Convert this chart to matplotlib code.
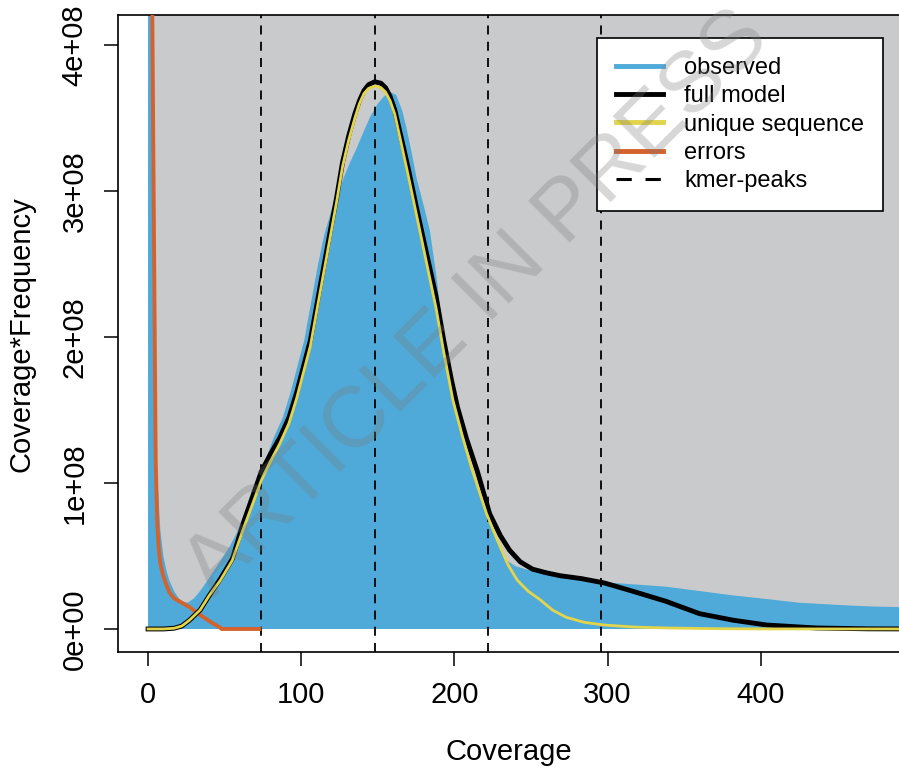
import numpy as np
import matplotlib
matplotlib.use('Agg')
import matplotlib.pyplot as plt

# values, frequencies in units of 1e8
obs_cov = [0, 1, 2, 3, 4, 5, 6, 8, 10, 12, 14, 17, 20, 23, 26, 30, 34, 38, 45, 53,
           58, 63, 68, 74, 82, 88, 93, 98, 102, 107, 111, 115, 120, 124, 128, 132,
           136, 140, 145, 150, 154, 158, 162, 166, 169, 172, 175.5, 180, 184, 188.5,
           193, 199, 205, 211, 216, 221, 226, 230, 234, 240, 248, 256, 270, 284,
           298, 318, 338, 360, 382, 404, 425, 450, 470, 490, 510]
obs_freq = [12, 12, 9, 4.6, 2.3, 1.45, 1.05, 0.68, 0.5, 0.4, 0.33, 0.26, 0.21, 0.185,
            0.18, 0.21, 0.26, 0.32, 0.43, 0.56, 0.66, 0.8, 0.95, 1.08, 1.31, 1.45,
            1.62, 1.82, 1.98, 2.27, 2.5, 2.7, 2.88, 2.98, 3.1, 3.2, 3.29, 3.39,
            3.51, 3.6, 3.65, 3.68, 3.66, 3.55, 3.42, 3.27, 3.08, 2.9, 2.73, 2.4,
            2.0, 1.6, 1.35, 1.12, 0.96, 0.8, 0.66, 0.56, 0.47, 0.43, 0.405, 0.39,
            0.365, 0.34, 0.32, 0.305, 0.29, 0.26, 0.23, 0.205, 0.18, 0.165, 0.155,
            0.15, 0.145]

model_cov = [0, 10, 17, 22, 27, 34, 40, 47, 55, 62, 68, 74, 80, 86, 92, 97, 102,
             106, 111, 115, 119, 123, 127, 131, 135, 138, 141, 144, 148, 152, 155,
             158, 161, 165, 170, 175, 180, 184, 188, 193, 198, 202, 208, 215, 223,
             230, 236, 243, 251, 260, 269, 283, 298, 316, 338, 360, 382, 404, 436,
             470, 510]
model_freq = [0, 0, 0.005, 0.02, 0.06, 0.13, 0.23, 0.34, 0.48, 0.72, 0.9, 1.08,
              1.2, 1.31, 1.45, 1.62, 1.82, 1.98, 2.27, 2.5, 2.73, 2.95, 3.2, 3.38,
              3.53, 3.62, 3.69, 3.73, 3.75, 3.74, 3.71, 3.65, 3.56, 3.38, 3.15, 2.9,
              2.66, 2.47, 2.28, 1.98, 1.71, 1.52, 1.3, 1.08, 0.79, 0.64, 0.54, 0.46,
              0.41, 0.385, 0.365, 0.345, 0.315, 0.26, 0.19, 0.105, 0.06, 0.027,
              0.007, 0.001, 0]

uniq_cov = [0, 10, 17, 22, 27, 34, 40, 47, 55, 62, 68, 74, 80, 86, 92, 97, 102,
            106, 111, 115, 119, 123, 127, 131, 135, 138, 141, 144, 148, 152, 155,
            158, 161, 165, 170, 175, 180, 184, 188, 193, 199, 205, 211, 216, 221,
            226, 230, 235, 241, 248, 256, 264, 273, 285, 298, 318, 338, 370, 400,
            510]
uniq_freq = [0, 0, 0.005, 0.02, 0.06, 0.13, 0.23, 0.33, 0.47, 0.68, 0.85, 1.02,
             1.15, 1.27, 1.41, 1.58, 1.78, 1.94, 2.23, 2.46, 2.69, 2.92, 3.17, 3.35,
             3.5, 3.6, 3.67, 3.705, 3.72, 3.71, 3.68, 3.62, 3.53, 3.34, 3.1, 2.85,
             2.6, 2.4, 2.2, 1.9, 1.57, 1.33, 1.11, 0.95, 0.79, 0.66, 0.56, 0.44,
             0.335, 0.26, 0.2, 0.13, 0.08, 0.045, 0.027, 0.013, 0.007, 0.002,
             0.0005, 0]

err_cov = [2, 2.5, 3, 3.5, 4, 4.5, 5, 6, 7, 8, 10, 12, 14, 17, 22, 27, 32, 37, 42,
           47, 48, 74]
err_freq = [6.0, 4.6, 3.9, 3.2, 2.5, 1.8, 1.15, 0.72, 0.55, 0.45, 0.36, 0.3, 0.25,
            0.21, 0.18, 0.15, 0.11, 0.075, 0.04, 0.01, 0, 0]

kmer_peaks = [74, 148, 222, 296]

xticks = [0, 100, 200, 300, 400]
yticks = [0, 1, 2, 3, 4]
ytick_labels = ['0e+00', '1e+08', '2e+08', '3e+08', '4e+08']

legend_labels = ['observed', 'full model', 'unique sequence', 'errors', 'kmer-peaks']

C_BLUE = '#4faad9'
C_GREY = '#c9cacc'
C_YELLOW = '#e3d54b'
C_ORANGE = '#d4622c'

plt.rcParams['font.family'] = ['Liberation Sans', 'DejaVu Sans']

s = 1e8
fig = plt.figure(figsize=(8.99, 7.68), dpi=100)
ax = fig.add_axes([0.1313, 0.151, 0.902, 0.829])

ymin, ymax = -0.158 * s, 4.205 * s
xmin, xmax = -19.6, 509.8

# grey background behind the observed histogram
ax.fill_between([obs_cov[0], obs_cov[-1]], 0, ymax * 2, color=C_GREY, lw=0, zorder=1)
ax.fill_between(obs_cov, 0, np.array(obs_freq) * s, color=C_BLUE, lw=0, zorder=2)

for p in kmer_peaks:
    ax.axvline(p, color='black', lw=1.3, ls=(0, (5, 4)), zorder=3)

ax.plot(err_cov, np.array(err_freq) * s, color=C_ORANGE, lw=2.8, zorder=4,
        solid_capstyle='butt')
ax.plot(model_cov, np.array(model_freq) * s, color='black', lw=3.5, zorder=5)
ax.plot(uniq_cov, np.array(uniq_freq) * s, color=C_YELLOW, lw=2.0, zorder=6)

ax.set_xlim(xmin, xmax)
ax.set_ylim(ymin, ymax)
ax.set_xticks(xticks)
ax.set_yticks(np.array(yticks) * s)
ax.set_yticklabels(ytick_labels, rotation=90, va='center')
ax.tick_params(axis='both', direction='out', length=10, width=1.1, labelsize=21)
ax.tick_params(axis='x', pad=11)
ax.tick_params(axis='y', pad=11)
for sp in ax.spines.values():
    sp.set_linewidth(1.2)

ax.set_xlabel('Coverage', fontsize=21)
ax.set_ylabel('Coverage*Frequency', fontsize=21)
ax.xaxis.set_label_coords((509 - 118) / (929 - 118), -(738 - 652) / (652 - 15))
ax.yaxis.set_label_coords(-(118 - 35) / (929 - 118), 0.5)

handles = [
    plt.Line2D([], [], color=C_BLUE, lw=3.5),
    plt.Line2D([], [], color='black', lw=3.5),
    plt.Line2D([], [], color=C_YELLOW, lw=3.5),
    plt.Line2D([], [], color=C_ORANGE, lw=3.5),
    plt.Line2D([], [], color='black', lw=2.2, ls=(0, (5, 4.5))),
]
leg = fig.legend(handles, legend_labels, loc='upper left',
                 bbox_to_anchor=(597 / 899, 1 - 38 / 768),
                 prop={'family': 'Liberation Sans', 'size': 17},
                 fancybox=False, framealpha=1, edgecolor='black',
                 handlelength=2.0, handletextpad=0.9, labelspacing=0.27,
                 borderpad=0.8, borderaxespad=0)
leg.get_frame().set_linewidth(1.2)
leg.set_zorder(10)

fig.text(478 / 899, 1 - 304 / 768, 'ARTICLE IN PRESS', rotation=45,
         ha='center', va='center', fontsize=62, color='#7a7a7a', alpha=0.3,
         family='Liberation Sans', zorder=20)

fig.savefig('out.png', dpi=100)
